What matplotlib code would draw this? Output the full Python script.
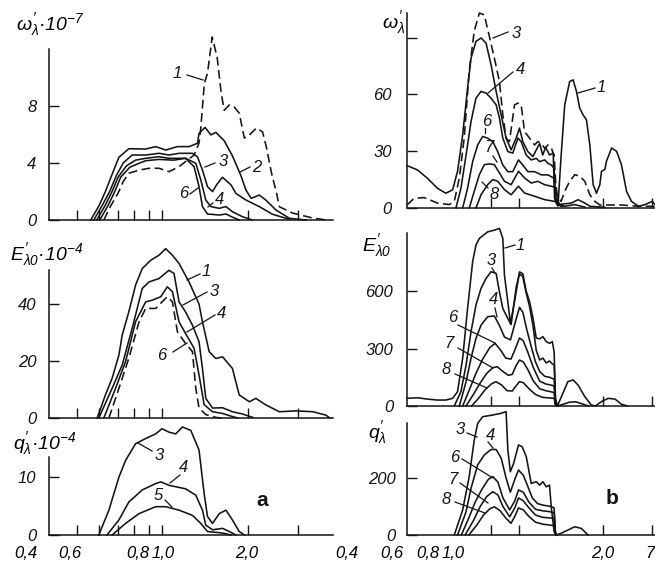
import matplotlib
matplotlib.use("Agg")
import matplotlib.pyplot as plt
from matplotlib.lines import Line2D
from matplotlib.ticker import NullLocator, FixedLocator

plt.rcParams['font.family'] = ['Liberation Sans', 'DejaVu Sans']
plt.rcParams['font.style'] = 'italic'
plt.rcParams['mathtext.fontset'] = 'custom'
plt.rcParams['mathtext.rm'] = 'Liberation Sans:italic'
plt.rcParams['mathtext.it'] = 'Liberation Sans:italic'
plt.rcParams['mathtext.bf'] = 'Liberation Sans:bold'

# ---------------- data: panel a ----------------
# omega'_lambda * 1e-7
lam_aw1 = [0.624, 0.66, 0.701, 0.73, 0.764, 0.83, 0.9, 0.976, 1.058, 1.148, 1.21, 1.297, 1.35, 1.37, 1.388, 1.41, 1.446,
           1.502, 1.564, 1.616, 1.656, 1.725, 1.796, 1.87, 1.949, 2.03, 2.15, 2.26, 2.33, 2.43, 2.53, 2.59, 2.88, 3.39, 3.8]
val_aw1 = [0, 1.0, 1.9, 2.7, 3.28, 3.5, 3.63, 3.63, 3.39, 3.74, 4.1, 4.56, 5.4, 6.5, 7.95, 9.6, 10.3,
           12.84, 11.4, 8.9, 7.7, 8.07, 7.93, 7.5, 5.75, 5.96, 6.46, 6.18, 5.12, 3.3, 1.9, 0.93, 0.49, 0.14, 0]
lam_aw2 = [0.561, 0.60, 0.632, 0.67, 0.705, 0.764, 0.876, 0.95, 1.03, 1.133, 1.245, 1.333, 1.35, 1.418, 1.486, 1.547,
           1.656, 1.77, 1.897, 1.975, 2.06, 2.2, 2.32, 2.52, 2.81, 3.22]
val_aw2 = [0, 1.0, 2.0, 3.3, 4.4, 5.0, 4.98, 5.15, 4.91, 5.15, 5.15, 5.38, 6.08, 6.5, 5.97, 6.15,
           5.56, 4.5, 3.1, 2.1, 1.52, 1.75, 1.4, 0.7, 0.12, 0]
lam_aw3 = [0.575, 0.615, 0.654, 0.69, 0.73, 0.785, 0.876, 0.976, 1.058, 1.148, 1.28, 1.333, 1.388, 1.446, 1.506, 1.56,
           1.633, 1.75, 1.82, 1.975, 2.2, 2.45, 2.81]
val_aw3 = [0, 1.0, 2.0, 3.1, 4.0, 4.56, 4.56, 4.68, 4.56, 4.68, 4.68, 4.44, 3.5, 2.34, 1.99, 2.5,
           3.0, 2.46, 1.87, 1.4, 0.94, 0.4, 0.05]
lam_aw4 = [0.589, 0.63, 0.667, 0.70, 0.75, 0.807, 0.876, 0.976, 1.058, 1.21, 1.315, 1.37, 1.426, 1.486, 1.59, 1.68,
           1.77, 1.92, 2.08]
val_aw4 = [0, 1.0, 2.0, 3.0, 3.8, 4.2, 4.33, 4.44, 4.33, 4.33, 3.98, 2.8, 1.4, 0.94, 0.82, 0.94,
           0.58, 0.23, 0.0]
lam_aw6 = [0.604, 0.645, 0.682, 0.715, 0.77, 0.83, 0.876, 0.976, 1.10, 1.21, 1.297, 1.35, 1.388, 1.446, 1.59, 1.68,
           1.77, 1.87]
val_aw6 = [0, 1.0, 2.0, 3.0, 3.7, 3.98, 4.16, 4.25, 4.2, 4.33, 3.74, 2.34, 0.94, 0.42, 0.35, 0.42, 0.2, 0]

# E'_lambda0 * 1e-4
lam_ae1 = [0.591, 0.632, 0.667, 0.705, 0.724, 0.764, 0.807, 0.852, 0.912, 0.976, 1.03, 1.088, 1.148, 1.245, 1.35,
           1.388, 1.466, 1.547, 1.633, 1.77, 1.87, 2.03, 2.14, 2.32, 2.59, 2.96, 3.4, 3.78, 3.9]
val_ae1 = [0, 8.1, 13.9, 22.1, 29.1, 37.3, 46.7, 52.5, 55.4, 57.2, 59.5, 57.2, 54.3, 47.8, 40.0,
           33.8, 23.3, 20.9, 21.5, 17.4, 8.1, 5.7, 6.9, 4.6, 2.2, 2.5, 2.2, 1.0, 0]
lam_ae3 = [0.599, 0.667, 0.724, 0.785, 0.852, 0.9, 0.976, 1.058, 1.102, 1.148, 1.21, 1.28, 1.35, 1.388, 1.426, 1.506,
           1.633, 1.77, 1.92, 2.09]
val_ae3 = [0, 10.4, 18.6, 31.5, 45.5, 47.8, 49, 51.9, 50.8, 40.8, 37.3, 32.6, 26.8, 17.4, 6.9, 3.5,
           3.6, 2.2, 1.4, 0.2]
lam_ae4 = [0.624, 0.686, 0.744, 0.807, 0.876, 0.924, 0.99, 1.044, 1.088, 1.148, 1.21, 1.297, 1.35, 1.407, 1.506,
           1.633, 1.77, 1.85]
val_ae4 = [0, 10.4, 19.8, 33.8, 40.8, 41.4, 42.6, 46.1, 44.4, 33.8, 29.7, 24.5, 15.1, 4.7, 2.2, 1.6, 0.5, 0]
lam_ae6 = [0.65, 0.705, 0.764, 0.83, 0.876, 0.95, 1.0, 1.044, 1.088, 1.133, 1.21, 1.28, 1.315, 1.35, 1.426, 1.55, 1.62]
val_ae6 = [0, 10.4, 21, 33.8, 38.5, 38.5, 40.8, 42.6, 40.8, 30.3, 26.2, 23.3, 10.4, 3.5, 1.2, 0.2, 0]

# q'_lambda * 1e-4
lam_aq3 = [0.599, 0.65, 0.705, 0.744, 0.807, 0.876, 0.95, 1.0, 1.058, 1.118, 1.18, 1.263, 1.35, 1.407, 1.446, 1.506,
           1.59, 1.68, 1.77, 1.87, 1.95]
val_aq3 = [0, 4.3, 10, 12.9, 15.8, 16.7, 17.5, 18.4, 17.8, 17.5, 18.7, 18.1, 14.7, 7.2, 3.2, 2.0,
           3.7, 4.3, 2.6, 0.6, 0]
lam_aq4 = [0.64, 0.705, 0.764, 0.852, 0.95, 0.99, 1.058, 1.21, 1.315, 1.388, 1.426, 1.506, 1.633, 1.725, 1.82]
val_aq4 = [0, 2.6, 5.7, 7.8, 8.9, 9.2, 8.6, 8.0, 6.9, 4.3, 1.7, 0.9, 1.15, 0.6, 0]
lam_aq5 = [0.667, 0.744, 0.83, 0.95, 1.03, 1.148, 1.28, 1.37, 1.446, 1.59, 1.65, 1.75]
val_aq5 = [0, 2.0, 3.7, 4.9, 4.9, 4.3, 3.4, 2.0, 0.6, 0.4, 0.3, 0]

# ---------------- data: panel b ----------------
lam_bw1 = [0.4, 0.436, 0.473, 0.514, 0.55, 0.582, 0.606, 0.632, 0.658, 0.677, 0.705, 0.735, 0.766, 0.798, 0.832,
           0.867, 0.903, 0.941, 0.981, 1.008, 1.036, 1.08, 1.126, 1.16, 1.19, 1.22, 1.25, 1.29, 1.33, 1.345, 1.37,
           1.383, 1.42, 1.462, 1.523, 1.566, 1.61, 1.654, 1.70, 1.748, 1.797, 1.847, 1.898, 1.951, 1.978, 2.033,
           2.06, 2.15, 2.24, 2.33, 2.43, 2.53, 2.68, 2.83, 3.0, 3.07]
val_bw1 = [22.4, 20.1, 15.7, 10.4, 7.8, 9.6, 19.4, 38.6, 63.3, 79.2, 88.0, 89.8, 87.1, 75.7, 61.6,
           49.2, 36.9, 30.7, 36.9, 42.2, 35.1, 29.8, 27.2, 31, 34, 28, 32, 28, 29, 5, 2,
           1, 28, 54.5, 66.8, 67.7, 61.6, 52.7, 49.2, 46.6, 33.3, 12.3, 7.8, 12.3, 19.4, 20.3,
           24.7, 31.7, 29.9, 22.9, 8.8, 3.5, 0.9, 1.8, 3.5, 1.8]
lam_bw3 = [0.4, 0.424, 0.46, 0.514, 0.566, 0.59, 0.615, 0.64, 0.667, 0.695, 0.725, 0.755, 0.787, 0.82, 0.855, 0.879,
           0.903, 0.928, 0.968, 0.995, 1.022, 1.051, 1.095, 1.141, 1.173, 1.206, 1.24, 1.274, 1.31, 1.34, 1.365,
           1.42, 1.462, 1.523, 1.588, 1.654, 1.724, 1.797, 1.873, 1.95, 2.33, 2.68, 3.07]
val_bw3 = [1.6, 5.1, 5.5, 2.6, 1.8, 3.5, 15.9, 37, 72.3, 93.4, 103, 102, 90.6, 79.2, 66.8, 49.2,
           36.9, 35.1, 54.5, 55.4, 54.5, 40.4, 36.9, 33.3, 35.1, 34.2, 31.5, 33.3, 31.5, 28, 7,
           3.5, 8.8, 14.1, 17.6, 16.8, 14.1, 7, 3.5, 1.6, 1.6, 0.9, 0.9]
lam_bw4 = [0.598, 0.623, 0.65, 0.677, 0.705, 0.735, 0.766, 0.798, 0.832, 0.855, 0.879, 0.916, 0.954, 0.995, 1.022,
           1.065, 1.11, 1.157, 1.19, 1.24, 1.274, 1.31, 1.34, 1.355, 1.383, 1.544, 1.632, 1.724, 1.8, 2.03]
val_bw4 = [0, 10.4, 28, 45.7, 58, 61.6, 60.7, 58, 54.5, 47.5, 36.9, 29.8, 29, 36.9, 35.1,
           28, 25.4, 26.2, 24.5, 25.4, 23.6, 22.7, 21, 6.2, 1.8, 2.6, 4.4, 2.6, 0.9, 0.4]
lam_bw6 = [0.632, 0.658, 0.686, 0.715, 0.745, 0.776, 0.809, 0.843, 0.879, 0.916, 0.954, 1.0, 1.036, 1.08, 1.141,
           1.206, 1.274, 1.34, 1.355, 1.383, 1.44]
val_bw6 = [0, 10.4, 24.5, 33.3, 37.8, 36.9, 35.1, 29.8, 22.7, 19.2, 19.2, 25.4, 22.7, 19.2, 19.2,
           17.5, 17.5, 15.7, 4.4, 1.6, 0.9]
lam_bw7 = [0.667, 0.695, 0.725, 0.755, 0.787, 0.82, 0.855, 0.891, 0.941, 1.0, 1.051, 1.11, 1.173, 1.24, 1.31, 1.365,
           1.383, 1.42]
val_bw7 = [0, 8.8, 17.6, 22.9, 23.3, 22.9, 18.5, 14.1, 12.3, 19.4, 15.9, 13.2, 14.1, 12.3, 11.5, 10.6, 3.5, 0.9]
lam_bw8 = [0.705, 0.735, 0.776, 0.809, 0.843, 0.891, 0.941, 1.0, 1.051, 1.141, 1.24, 1.346, 1.4, 1.462, 1.588, 1.73]
val_bw8 = [0, 7, 12.3, 15, 14.1, 9.7, 7, 11.5, 7.9, 6.2, 4.4, 3.5, 1.8, 0.9, 1.8, 0.4]

lam_be1 = [0.4, 0.436, 0.473, 0.514, 0.55, 0.582, 0.606, 0.632, 0.658, 0.686, 0.705, 0.725, 0.776, 0.82, 0.855, 0.879,
           0.891, 0.916, 0.936, 0.968, 1.008, 1.036, 1.065, 1.095, 1.126, 1.157, 1.19, 1.222, 1.256, 1.29, 1.32,
           1.34, 1.355, 1.376, 1.44, 1.5, 1.566, 1.632, 1.724, 1.82, 1.88, 1.978, 2.09, 2.21, 2.33, 2.45]
val_be1 = [40, 43, 36, 31, 31, 40, 75, 249, 509, 753, 840, 875, 909, 918, 927, 875,
           683, 544, 431, 544, 700, 690, 600, 545, 460, 355, 350, 362, 336, 327, 336,
           283, 40, 0, 66, 127, 136, 109, 49, 5, 0, 23, 40, 36, 9, 0]
lam_be3 = [0.59, 0.623, 0.65, 0.677, 0.705, 0.735, 0.766, 0.798, 0.832, 0.855, 0.879, 0.916, 0.941, 0.981, 1.008,
           1.036, 1.065, 1.095, 1.126, 1.157, 1.19, 1.222, 1.256, 1.29, 1.32, 1.34, 1.355, 1.376, 1.45, 1.52, 1.6,
           1.68, 1.78]
val_be3 = [0, 75, 214, 388, 527, 614, 666, 701, 692, 596, 509, 457, 425, 620, 690,
           675, 590, 520, 420, 290, 240, 250, 225, 235, 220, 215, 30, 0, 10, 20, 22, 12, 0]
lam_be4 = [0.615, 0.65, 0.677, 0.705, 0.735, 0.776, 0.82, 0.855, 0.891, 0.936, 0.975, 1.008, 1.036, 1.07, 1.11, 1.15,
           1.19, 1.24, 1.29, 1.34, 1.355, 1.376]
val_be4 = [0, 127, 249, 353, 422, 466, 470, 420, 360, 345, 440, 515, 490, 400, 310, 230,
           180, 155, 150, 140, 10, 0]
lam_be6 = [0.632, 0.67, 0.705, 0.745, 0.79, 0.825, 0.865, 0.9, 0.94, 0.975, 1.008, 1.04, 1.08, 1.13, 1.19, 1.25, 1.3,
           1.34, 1.355, 1.376]
val_be6 = [0, 90, 170, 245, 305, 327, 290, 250, 245, 300, 355, 340, 280, 200, 130, 115, 110, 105, 8, 0]
lam_be7 = [0.65, 0.69, 0.73, 0.77, 0.81, 0.84, 0.88, 0.92, 0.95, 0.98, 1.008, 1.04, 1.08, 1.13, 1.19, 1.25, 1.3, 1.34,
           1.355, 1.376]
val_be7 = [0, 60, 120, 170, 200, 205, 180, 160, 165, 210, 240, 230, 190, 130, 90, 80, 75, 70, 6, 0]
lam_be8 = [0.68, 0.72, 0.76, 0.8, 0.83, 0.87, 0.91, 0.95, 0.98, 1.008, 1.04, 1.09, 1.15, 1.22, 1.29, 1.34, 1.355, 1.376]
val_be8 = [0, 40, 85, 115, 127, 110, 80, 78, 105, 127, 122, 90, 60, 45, 42, 40, 5, 0]

lam_bq3 = [0.59, 0.632, 0.667, 0.695, 0.715, 0.745, 0.809, 0.867, 0.903, 0.916, 0.935, 0.96, 1.0, 1.03, 1.066, 1.11,
           1.157, 1.19, 1.222, 1.256, 1.29, 1.31, 1.34, 1.36, 1.42, 1.46, 1.52, 1.588, 1.677, 1.77]
val_bq3 = [0, 88, 205, 333, 392, 415, 421, 427, 433, 300, 222, 250, 316, 310, 275, 181,
           187, 175, 187, 169, 175, 94, 12, 0, 6, 12, 20, 29, 23, 0]
lam_bq4 = [0.606, 0.65, 0.677, 0.715, 0.755, 0.798, 0.832, 0.867, 0.903, 0.935, 0.97, 1.0, 1.04, 1.08, 1.12, 1.17,
           1.22, 1.27, 1.31, 1.34, 1.355, 1.37]
val_bq4 = [0, 82, 164, 246, 281, 300, 300, 270, 200, 150, 195, 228, 210, 170, 130, 110,
           105, 102, 100, 95, 6, 0]
lam_bq6 = [0.625, 0.665, 0.70, 0.74, 0.78, 0.81, 0.845, 0.88, 0.93, 0.97, 1.0, 1.04, 1.09, 1.15, 1.22, 1.29, 1.34,
           1.355, 1.37]
val_bq6 = [0, 60, 115, 160, 195, 205, 185, 130, 88, 120, 158, 150, 115, 90, 85, 82, 78, 5, 0]
lam_bq7 = [0.645, 0.69, 0.73, 0.77, 0.81, 0.845, 0.88, 0.93, 0.97, 1.0, 1.04, 1.09, 1.15, 1.22, 1.29, 1.34, 1.355, 1.37]
val_bq7 = [0, 50, 100, 135, 152, 140, 100, 64, 95, 130, 120, 95, 70, 62, 60, 58, 4, 0]
lam_bq8 = [0.665, 0.71, 0.75, 0.79, 0.82, 0.86, 0.9, 0.94, 0.97, 1.0, 1.04, 1.09, 1.15, 1.22, 1.29, 1.34, 1.355, 1.37]
val_bq8 = [0, 35, 70, 92, 99, 85, 60, 41, 65, 95, 88, 65, 45, 38, 35, 33, 3, 0]

# axis ticks / labels
ticks_a = [0.5, 0.6, 0.7, 0.8, 0.9, 1.0, 2.0, 3.0]
ticks_b = [0.8, 1.0, 2.0, 3.0]
xlabels = ["0,4", "0,6", "0,8", "1,0", "2,0"]

# ---------------- figure ----------------
W, H = 655, 568
fig = plt.figure(figsize=(6.55, 5.68), dpi=100)
INK = '#141414'
LW = 1.15
DASH = (0, (5.5, 2.8))


def fx(x):
    return x / W


def fy(y):
    return 1 - y / H


def make_ax(x0, x1, ytop, ybot, xlim, ylim, yticks, ylabels, xticks, pad):
    ax = fig.add_axes([fx(x0), fy(ybot), (x1 - x0) / W, (ybot - ytop) / H])
    ax.set_xscale('log')
    ax.set_xlim(*xlim)
    ax.set_ylim(*ylim)
    ax.patch.set_alpha(0)
    for s in ['top', 'right']:
        ax.spines[s].set_visible(False)
    for s in ['left', 'bottom']:
        ax.spines[s].set_linewidth(1.1)
        ax.spines[s].set_color(INK)
    ax.xaxis.set_major_locator(FixedLocator(xticks))
    ax.xaxis.set_minor_locator(NullLocator())
    ax.set_xticklabels([])
    ax.set_yticks(yticks)
    ax.set_yticklabels(ylabels)
    ax.tick_params(axis='both', direction='in', length=7, width=1.0, colors=INK,
                   labelsize=12, pad=pad)
    return ax


def curve(ax, x, y, dashed=False):
    ax.plot(x, y, color=INK, lw=LW, ls=DASH if dashed else '-', clip_on=False,
            solid_joinstyle='round', dash_joinstyle='round')


# panel a
a1 = make_ax(49, 333, 49, 220, (0.4, 4.0), (0, 12), [0, 4, 8], ['0', '4', '8'], ticks_a, 9)
a2 = make_ax(49, 333, 270, 418, (0.4, 4.0), (0, 52), [0, 20, 40], ['0', '20', '40'], ticks_a, 9)
a3 = make_ax(49, 333, 457, 535, (0.4, 4.0), (0, 13.5), [0, 10], ['0', '10'], ticks_a, 9)
# panel b
b1 = make_ax(407, 655, 13, 208, (0.4, 3.07), (0, 103), [0, 30, 60, 90], ['0', '30', '60', ''], ticks_b, 11)
b2 = make_ax(407, 655, 233, 406, (0.4, 3.07), (0, 903), [0, 300, 600], ['0', '300', '600'], ticks_b, 10)
b3 = make_ax(407, 655, 423, 535, (0.4, 3.07), (0, 393), [0, 200], ['0', '200'], ticks_b, 8)

curve(a1, lam_aw1, val_aw1, dashed=True)
curve(a1, lam_aw2, val_aw2)
curve(a1, lam_aw3, val_aw3)
curve(a1, lam_aw4, val_aw4)
curve(a1, lam_aw6, val_aw6)

curve(a2, lam_ae1, val_ae1)
curve(a2, lam_ae3, val_ae3)
curve(a2, lam_ae4, val_ae4)
curve(a2, lam_ae6, val_ae6, dashed=True)

curve(a3, lam_aq3, val_aq3)
curve(a3, lam_aq4, val_aq4)
curve(a3, lam_aq5, val_aq5)

curve(b1, lam_bw1, val_bw1)
curve(b1, lam_bw3, val_bw3, dashed=True)
curve(b1, lam_bw4, val_bw4)
curve(b1, lam_bw6, val_bw6)
curve(b1, lam_bw7, val_bw7)
curve(b1, lam_bw8, val_bw8)

curve(b2, lam_be1, val_be1)
curve(b2, lam_be3, val_be3)
curve(b2, lam_be4, val_be4)
curve(b2, lam_be6, val_be6)
curve(b2, lam_be7, val_be7)
curve(b2, lam_be8, val_be8)

curve(b3, lam_bq3, val_bq3)
curve(b3, lam_bq4, val_bq4)
curve(b3, lam_bq6, val_bq6)
curve(b3, lam_bq7, val_bq7)
curve(b3, lam_bq8, val_bq8)

# y-axis quantity labels
ylab_size = 14
fig.text(fx(16), fy(25), "$\\omega^{\\prime}_{\\lambda}$\u00b7$10^{-7}$", fontsize=ylab_size, ha='left', va='center')
fig.text(fx(10), fy(255), "$E^{\\prime}_{\\lambda 0}$\u00b7$10^{-4}$", fontsize=ylab_size, ha='left', va='center')
fig.text(fx(13), fy(444), "$q^{\\prime}_{\\lambda}$\u00b7$10^{-4}$", fontsize=ylab_size, ha='left', va='center')
fig.text(fx(382), fy(23), r"$\omega^{\prime}_{\lambda}$", fontsize=ylab_size, ha='left', va='center')
fig.text(fx(362), fy(246), r"$E^{\prime}_{\lambda 0}$", fontsize=ylab_size, ha='left', va='center')
fig.text(fx(368), fy(433), r"$q^{\prime}_{\lambda}$", fontsize=ylab_size, ha='left', va='center')

# bottom wavelength labels (placed as printed)
xlab_pos_a = [26, 70, 138, 163, 247]
xlab_pos_b = [347, 392, 428, 453, 603]
for lab, xp in zip(xlabels, xlab_pos_a):
    fig.text(fx(xp), fy(553), lab, fontsize=12, ha='center', va='center')
for lab, xp in zip(xlabels, xlab_pos_b):
    fig.text(fx(xp), fy(553), lab, fontsize=12, ha='center', va='center')
fig.text(fx(650), fy(553), "7", fontsize=12, ha='center', va='center')

# curve number labels with leader lines (pixel positions)
curve_labels = [
    ("1", 177, 74, (187, 75, 203, 80)),
    ("3", 223, 162, (205, 167, 215, 163)),
    ("2", 257, 168, (240, 172, 250, 167)),
    ("6", 184, 193, (190, 194, 198, 188)),
    ("4", 220, 200, (208, 207, 213, 203)),
    ("1", 206, 272, (187, 280, 200, 274)),
    ("3", 214, 291, (183, 305, 207, 292)),
    ("4", 222, 313, (187, 332, 215, 315)),
    ("6", 162, 355, (173, 352, 187, 343)),
    ("3", 159, 455, (138, 443, 152, 451)),
    ("4", 184, 467, (170, 483, 180, 475)),
    ("5", 158, 496, (165, 500, 172, 507)),
    ("3", 516, 33, (493, 38, 508, 32)),
    ("4", 521, 70, (488, 93, 513, 72)),
    ("6", 487, 122, (485, 128, 485, 133)),
    ("7", 489, 148, (493, 156, 497, 162)),
    ("8", 494, 195, (482, 182, 488, 188)),
    ("1", 601, 88, (578, 93, 595, 88)),
    ("1", 520, 246, (505, 248, 515, 245)),
    ("3", 491, 260, (492, 268, 495, 273)),
    ("4", 494, 300, (495, 308, 497, 317)),
    ("6", 453, 318, (458, 325, 495, 343)),
    ("7", 449, 344, (458, 348, 493, 368)),
    ("8", 446, 370, (455, 374, 487, 388)),
    ("3", 460, 430, (467, 433, 477, 437)),
    ("4", 491, 435, (488, 442, 493, 448)),
    ("6", 455, 458, (462, 459, 493, 478)),
    ("7", 453, 480, (460, 483, 488, 503)),
    ("8", 446, 500, (455, 502, 485, 513)),
]
for txt, tx, ty, (x1, y1, x2, y2) in curve_labels:
    fig.text(fx(tx), fy(ty), txt, fontsize=12, ha='center', va='center', color=INK)
    fig.add_artist(Line2D([fx(x1), fx(x2)], [fy(y1), fy(y2)], transform=fig.transFigure,
                          color=INK, lw=0.9))

fig.text(fx(262), fy(501), "a", fontsize=15, fontweight='bold', fontstyle='normal',
         ha='center', va='center', color=INK)
fig.text(fx(612), fy(499), "b", fontsize=15, fontweight='bold', fontstyle='normal',
         ha='center', va='center', color=INK)

fig.savefig("out.png", dpi=100, facecolor='white')
